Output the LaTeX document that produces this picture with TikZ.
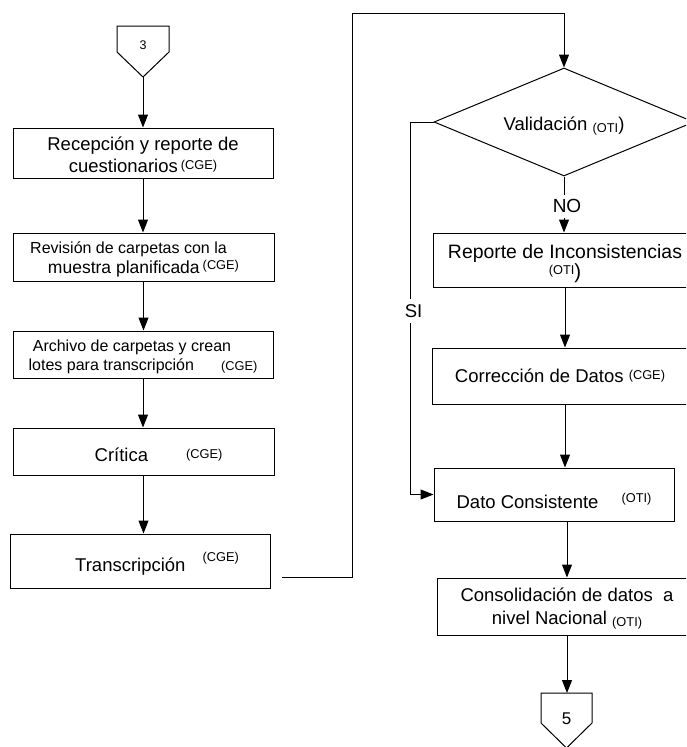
\documentclass[tikz,border=0pt]{standalone}
\usepackage{fontspec}
\setmainfont{Liberation Sans}
\usetikzlibrary{arrows.meta,shapes.geometric,calc}
\newcommand\smtxt[1]{{\fontsize{12.8}{14}\selectfont #1}}
\newcommand\mytwoline[3]{\vtop{\baselineskip=#1\relax\lineskiplimit=-100pt\halign{\hfil##\hfil\cr#2\cr#3\cr}}}
\begin{document}
\begin{tikzpicture}[x=1pt,y=-1pt,line width=1pt,
  box/.style={draw, inner sep=0pt, font=\fontsize{18.5}{21.5}\selectfont},
  arr/.style={-{Triangle[length=13pt,width=10pt]}},
  tag/.style={fill=white, inner xsep=1.5pt, inner ysep=5pt, font=\fontsize{18.5}{21.5}\selectfont}]
\useasboundingbox (0,0) rectangle (686,747);
\clip (0,0) rectangle (686,747);

% off-page connector 3
\draw (117,26) -- (169,26) -- (169,52) -- (143,77) -- (117,52) -- cycle;
\node[font=\fontsize{12.5}{14}\selectfont, anchor=base, inner sep=0pt] (c3) at (143,49.3) {3};
\coordinate (c3tip) at (143,77);

% left column
\node[box, minimum width=260pt, minimum height=50pt, text height=0pt, text depth=5pt] (b1) at (143,153)
  {\mytwoline{21.5pt}{Recepción y reporte de}{cuestionarios\,\raisebox{3pt}{\smtxt{(CGE)}}}};
\node[box, minimum width=261pt, minimum height=48pt, text height=0pt, text depth=8pt] (b2) at (143.5,257)
  {\mytwoline{20.5pt}{\fontsize{16}{19}\selectfont Revisión de carpetas con la\hspace*{30pt}}{\fontsize{17.5}{19}\selectfont muestra planificada\hspace{3pt}\raisebox{4.5pt}{\smtxt{(CGE)}}}};
\node[box, minimum width=260pt, minimum height=47pt, text height=0pt, text depth=6pt, font=\fontsize{16}{18.5}\selectfont] (b3) at (143,354.5)
  {\mytwoline{18.5pt}{Archivo de carpetas y crean\hspace*{22pt}}{lotes para transcripción\hspace{27pt}\smtxt{(CGE)}}};
\node[box, minimum width=261pt, minimum height=47pt, text height=19pt, text depth=0pt] (b4) at (143.5,451.5)
  {\hspace*{30pt}Crítica\hspace{38pt}\raisebox{3pt}{\smtxt{(CGE)}}};
\node[box, minimum width=260pt, minimum height=54pt, text height=20.8pt, text depth=0pt] (b5) at (140,561)
  {\hspace*{34pt}Transcripción\hspace{17pt}\raisebox{10pt}{\smtxt{(CGE)}}};

\draw[arr] (c3tip) -- (c3tip |- b1.north);
\draw[arr] (b1.south) -- (b1.south |- b2.north);
\draw[arr] (b2.south) -- (b2.south |- b3.north);
\draw[arr] (b3.south) -- (b3.south |- b4.north);
\draw[arr] (b4.south) -- (b4.south |- b5.north);

% right column
\node[draw, diamond, aspect=2.4, minimum width=260pt, minimum height=108pt, inner sep=0pt, text height=17pt, text depth=0pt, font=\fontsize{18.5}{21.5}\selectfont] (diam) at (564,122)
  {Validación \raisebox{-2pt}{\smtxt{(OTI}})};
\node[box, minimum width=264pt, minimum height=54pt, text height=0pt, text depth=2.6pt, font=\fontsize{19.4}{23}\selectfont] (rep) at (565,260)
  {\mytwoline{19.5pt}{Reporte de Inconsistencias}{\raisebox{4pt}{\smtxt{(OTI}}{\fontsize{20.5}{23}\selectfont )}}};
\node[box, minimum width=266pt, minimum height=56pt, text height=12pt, text depth=0pt] (cor) at (565,376)
  {Corrección de Datos \raisebox{2.5pt}{\smtxt{(CGE)}}\hspace*{10pt}};
\node[box, minimum width=240pt, minimum height=53pt, text height=27pt, text depth=0pt] (dato) at (554,494.5)
  {Dato Consistente\hspace{23pt}\raisebox{5.5pt}{\smtxt{(OTI)}}};
\node[box, minimum width=260pt, minimum height=57pt, text height=0pt, text depth=9.4pt] (cons) at (567,606.5)
  {\mytwoline{22.7pt}{Consolidación de datos\ \ a}{nivel Nacional \raisebox{-2pt}{\smtxt{(OTI)}}}};

% off-page connector 5
\draw (541,693) -- (592,693) -- (592,723) -- (566.5,748) -- (541,723) -- cycle;
\node[font=\fontsize{17}{20}\selectfont, anchor=base, inner sep=0pt] (c5) at (566.5,724) {5};
\coordinate (c5top) at (567,693);

% connectors
\coordinate (t0) at (282,577);
\draw[arr] (t0) -- (352,577) -- (352,13) -- (564,13) -- (diam.north);
\draw[arr] (diam.south) -- (diam.south |- rep.north);
\draw[arr] (rep.south) -- (rep.south |- cor.north);
\draw[arr] (cor.south) -- (cor.south |- dato.north);
\draw[arr] (diam.west) -- ++(-23,0) |- (dato.west);
\draw[arr] (dato.south -| cons.north) -- (cons.north);
\draw[arr] (cons.south) -- (c5top);

\node[tag] (si) at (413.5,311) {SI};
\node[tag, font=\fontsize{19}{22}\selectfont] (no) at (567,206.3) {NO};
\end{tikzpicture}
\end{document}
